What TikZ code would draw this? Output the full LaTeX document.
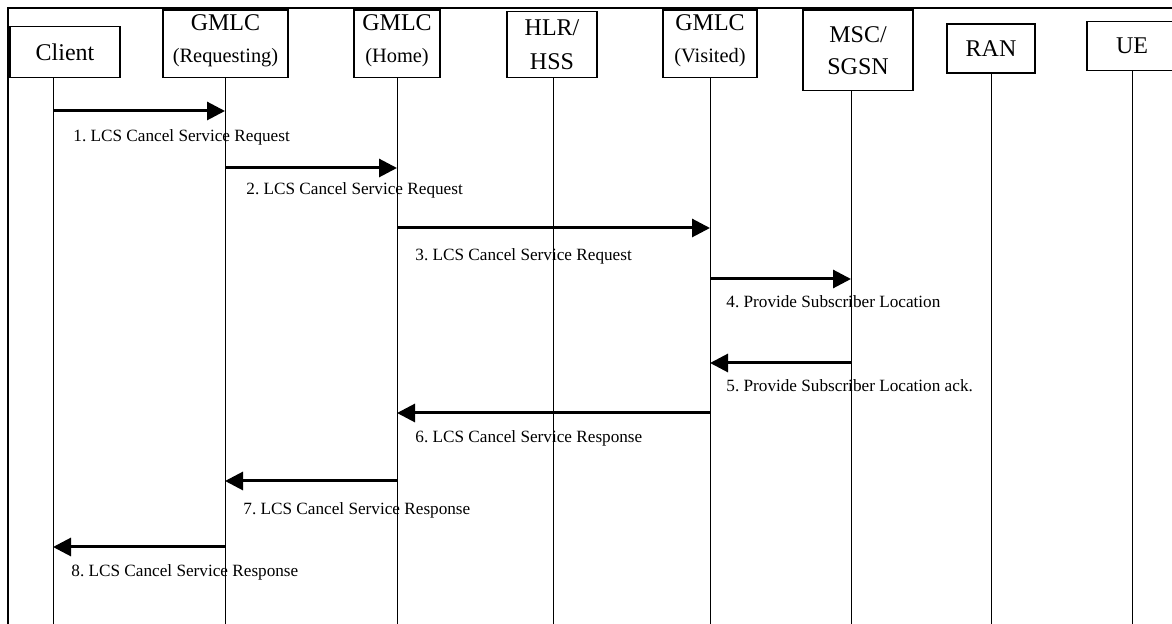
\documentclass[tikz,border=0pt]{standalone}
\usepackage{fontspec}
\setmainfont{Liberation Serif}
\usetikzlibrary{arrows.meta}
\frenchspacing

\begin{document}
\begin{tikzpicture}[x=0.5pt,y=-0.5pt]
\tikzstyle{every node}+=[inner sep=0pt]
\tikzstyle{entity}=[draw=black,line width=0.6pt,align=center,font=\fontsize{12}{16}\selectfont]
\tikzstyle{gmlc}=[entity,text depth=5.5pt]
\tikzstyle{life}=[black,line width=0.5pt]
\tikzstyle{msg}=[black,line width=1.5pt,-{Triangle[length=9pt,width=9pt]}]
\tikzstyle{msglabel}=[anchor=west,font=\fontsize{8.6}{10}\selectfont]
\useasboundingbox (0,0) rectangle (1172,624);
\draw [black,line width=1pt] (8,624) -- (8,8) -- (1172,8);
\node [entity,minimum width=55pt,minimum height=25.3pt] (client) at (65,52) {Client};
\node [gmlc,minimum width=62.5pt,minimum height=33.65pt] (req) at (225.5,43.65) {GMLC\\{\fontsize{10.2}{12}\selectfont (Requesting)}};
\node [gmlc,minimum width=43pt,minimum height=33.65pt] (home) at (397,43.65) {GMLC\\{\fontsize{10.2}{12}\selectfont (Home)}};
\node [entity,minimum width=45pt,minimum height=32.8pt] (hlr) at (552,44.5) {HLR/\\[1pt]HSS};
\node [gmlc,minimum width=47pt,minimum height=33.65pt] (vis) at (710,43.65) {GMLC\\{\fontsize{10.2}{12}\selectfont (Visited)}};
\node [entity,minimum width=55pt,minimum height=40.35pt] (msc) at (858,50.35) {MSC/\\SGSN};
\node [entity,minimum width=44pt,minimum height=24.5pt] (ran) at (991,48.5) {RAN};
\node [entity,minimum width=45pt,minimum height=24.5pt] (ue) at (1132,46.2) {UE};
\coordinate (clientL) at (53,624);
\coordinate (reqL) at (225,624);
\coordinate (homeL) at (397,624);
\coordinate (hlrL) at (553,624);
\coordinate (visL) at (710,624);
\coordinate (mscL) at (851,624);
\coordinate (ranL) at (991.5,624);
\coordinate (ueL) at (1132,624);
\draw [life] (client.south -| clientL) -- (clientL);
\draw [life] (req.south -| reqL) -- (reqL);
\draw [life] (home.south -| homeL) -- (homeL);
\draw [life] (hlr.south -| hlrL) -- (hlrL);
\draw [life] (vis.south -| visL) -- (visL);
\draw [life] (msc.south -| mscL) -- (mscL);
\draw [life] (ran.south -| ranL) -- (ranL);
\draw [life] (ue.south -| ueL) -- (ueL);
\draw [msg] (clientL |- 0,111) -- (reqL |- 0,111);
\node [msglabel] (m1) at (73,137) {1. LCS Cancel Service Request};
\draw [msg] (reqL |- 0,168) -- (homeL |- 0,168);
\node [msglabel] (m2) at (246,190) {2. LCS Cancel Service Request};
\draw [msg] (homeL |- 0,228) -- (visL |- 0,228);
\node [msglabel] (m3) at (415,256) {3. LCS Cancel Service Request};
\draw [msg] (visL |- 0,279) -- (mscL |- 0,279);
\node [msglabel] (m4) at (726,302) {4. Provide Subscriber Location};
\draw [msg] (mscL |- 0,363) -- (visL |- 0,363);
\node [msglabel] (m5) at (726,386) {5. Provide Subscriber Location ack.};
\draw [msg] (visL |- 0,413) -- (homeL |- 0,413);
\node [msglabel] (m6) at (415,438) {6. LCS Cancel Service Response};
\draw [msg] (homeL |- 0,481) -- (reqL |- 0,481);
\node [msglabel] (m7) at (243,510) {7. LCS Cancel Service Response};
\draw [msg] (reqL |- 0,547) -- (clientL |- 0,547);
\node [msglabel] (m8) at (71,572) {8. LCS Cancel Service Response};
\end{tikzpicture}
\end{document}
